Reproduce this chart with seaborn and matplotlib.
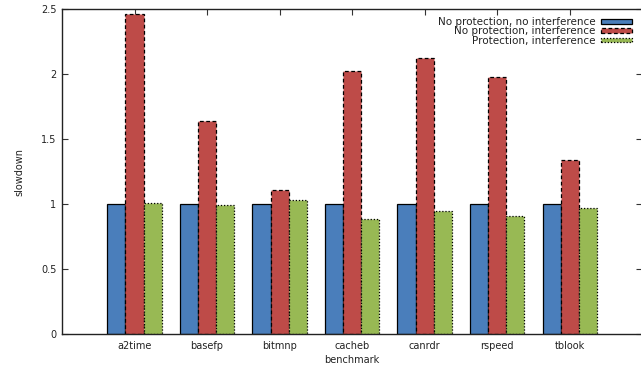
import matplotlib
matplotlib.use("Agg")
import matplotlib.pyplot as plt
from matplotlib.patches import Patch
import pandas as pd
import seaborn as sns

benchmarks = ["a2time", "basefp", "bitmnp", "cacheb", "canrdr", "rspeed", "tblook"]
series_names = [
    "No protection, no interference",
    "No protection, interference",
    "Protection, interference",
]
no_prot_no_intf = [1.0, 1.0, 1.0, 1.0, 1.0, 1.0, 1.0]
no_prot_intf = [2.46, 1.64, 1.11, 2.02, 2.12, 1.98, 1.335]
prot_intf = [1.01, 0.99, 1.03, 0.885, 0.95, 0.91, 0.97]
y_ticks = [0, 0.5, 1, 1.5, 2, 2.5]
y_tick_labels = ["0", "0.5", "1", "1.5", "2", "2.5"]

colors = ["#4a7ebb", "#be4b48", "#98b954"]
edge_styles = ["-", (0, (3, 2)), (0, (1, 1.5))]

rows = []
for name, vals in zip(series_names, [no_prot_no_intf, no_prot_intf, prot_intf]):
    for b, v in zip(benchmarks, vals):
        rows.append({"benchmark": b, "series": name, "slowdown": v})
df = pd.DataFrame(rows)

sns.set_style("white")
plt.rcParams["font.family"] = ["DejaVu Sans"]

fig = plt.figure(figsize=(6.41, 3.68), dpi=100)
ax = fig.add_axes([62 / 641, 1 - 334 / 368, 1.0 - 62 / 641 + 0.002, (334 - 9) / 368])

sns.barplot(
    data=df, x="benchmark", y="slowdown", hue="series",
    order=benchmarks, hue_order=series_names, palette=colors,
    width=0.75, gap=0, saturation=1, errorbar=None, legend=False, ax=ax,
)

for cont, ls in zip(ax.containers, edge_styles):
    for bar in cont:
        bar.set_edgecolor("black")
        bar.set_linewidth(0.9)
        bar.set_linestyle(ls)

ax.set_xlim(-1, 7)
ax.set_ylim(0, 2.5)
ax.set_yticks(y_ticks)
ax.set_yticklabels(y_tick_labels)
ax.tick_params(axis="both", direction="in", length=4, width=0.8,
               labelsize=7, colors="#333333", labelcolor="#222222",
               top=True, right=True, bottom=True, left=True, pad=4)
ax.tick_params(axis="x", length=4, pad=5)
for side in ["left", "bottom", "top"]:
    ax.spines[side].set_visible(True)
    ax.spines[side].set_color("#222222")
    ax.spines[side].set_linewidth(1.0)
ax.spines["right"].set_visible(False)

ax.set_xlabel("benchmark", fontsize=7, color="#222222", labelpad=3)
ax.set_ylabel("slowdown", fontsize=7, color="#222222", labelpad=12)

handles = [
    Patch(facecolor=c, edgecolor="black", linewidth=0.9, linestyle=ls, label=n)
    for c, ls, n in zip(colors, edge_styles, series_names)
]
leg = ax.legend(
    handles=handles, loc="upper right", bbox_to_anchor=(630 / 641, 0.976),
    frameon=False, fontsize=7.5, markerfirst=False, handlelength=3.0,
    handleheight=0.35, handletextpad=0.5, labelspacing=-0.05, borderpad=0.0,
    borderaxespad=0.0, alignment="right",
)
for t in leg.get_texts():
    t.set_ha("right")
    t.set_color("#222222")

fig.savefig("out.png", dpi=100)
